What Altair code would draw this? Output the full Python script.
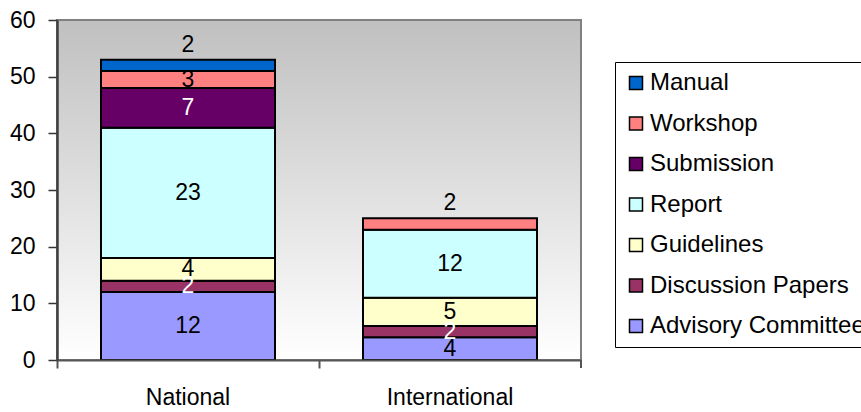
import altair as alt
import pandas as pd

# Publication counts by type, stacked per audience
categories = ["National", "International"]
series = ["Advisory Committee", "Discussion Papers", "Guidelines", "Report",
          "Submission", "Workshop", "Manual"]
national = [12, 2, 4, 23, 7, 3, 2]
international = [4, 2, 5, 12, 0, 2, 0]
series_colors = ["#9999FF", "#993366", "#FFFFCC", "#CCFFFF", "#660066", "#FF8080", "#0066CC"]
label_colors = ["black", "white", "black", "black", "white", "black", "black"]
y_ticks = [0, 10, 20, 30, 40, 50, 60]

FONT = "Liberation Sans"
W, H = 524, 340

rows = []
for cat, vals in zip(categories, [national, international]):
    top = max(i for i, v in enumerate(vals) if v > 0)
    for i, (s, v) in enumerate(zip(series, vals)):
        rows.append({"category": cat, "series": s, "value": v, "rank": i,
                     "lc": label_colors[i], "top": i == top})
df = pd.DataFrame(rows)

# legend lists the top of the stack first
legend_domain = series[::-1]
legend_range = series_colors[::-1]

base = alt.Chart(df).transform_filter("datum.value > 0")

background = alt.Chart(pd.DataFrame({"k": [0]})).mark_rect(
    fill=alt.LinearGradient(
        gradient="linear",
        stops=[alt.GradientStop(offset=0, color="#c0c0c0"),
               alt.GradientStop(offset=1, color="#ffffff")],
        x1=0, x2=0, y1=0, y2=1),
    stroke="#808080", strokeWidth=2,
).encode(x=alt.value(0), x2=alt.value(W), y=alt.value(0), y2=alt.value(H))

x_enc = alt.X("category:N", sort=categories,
              scale=alt.Scale(paddingInner=0, paddingOuter=0),
              axis=alt.Axis(title=None, labelAngle=0, labelFont=FONT, labelFontSize=23,
                            labelColor="black", labelPadding=18, tickSize=8,
                            tickColor="#555555", tickWidth=2, domainColor="#555555",
                            domainWidth=2, bandPosition=0, zindex=1))
y_enc = alt.Y("value:Q", stack="zero",
              scale=alt.Scale(domain=[0, 60], nice=False),
              axis=alt.Axis(title=None, values=y_ticks, grid=False, labelFont=FONT,
                            labelFontSize=23, labelColor="black", labelPadding=13,
                            tickSize=9, tickColor="#333333", tickWidth=1.5,
                            domainColor="#404040", domainWidth=2.5, zindex=1))

bars = base.mark_bar(stroke="black", strokeWidth=2, size=174).encode(
    x=x_enc,
    y=y_enc,
    color=alt.Color("series:N",
                    scale=alt.Scale(domain=legend_domain, range=legend_range),
                    legend=alt.Legend(title=None, orient="none", legendX=558, legendY=42,
                                      strokeColor="black", fillColor="white", padding=9,
                                      labelFont=FONT, labelFontSize=24, labelColor="black",
                                      labelLimit=400, labelOffset=2, symbolType="square",
                                      symbolSize=169, symbolStrokeColor="black",
                                      symbolStrokeWidth=1.5, rowPadding=16.5)),
    order=alt.Order("rank:Q"),
)

stacked = base.transform_stack(
    stack="value", groupby=["category"], as_=["v0", "v1"],
    sort=[alt.SortField("rank", order="ascending")],
).transform_calculate(mid="(datum.v0 + datum.v1) / 2")

inner_labels = stacked.transform_filter("!datum.top").mark_text(
    font=FONT, fontSize=23, baseline="middle").encode(
    x=alt.X("category:N", sort=categories),
    y=alt.Y("mid:Q"),
    text=alt.Text("value:Q"),
    fill=alt.Fill("lc:N", scale=None, legend=None),
)

top_labels = stacked.transform_filter("datum.top").mark_text(
    font=FONT, fontSize=23, baseline="middle", dy=-15).encode(
    x=alt.X("category:N", sort=categories),
    y=alt.Y("v1:Q"),
    text=alt.Text("value:Q"),
    fill=alt.Fill("lc:N", scale=None, legend=None),
)

end_tick = alt.Chart(pd.DataFrame({"k": [0]})).mark_rule(
    color="#555555", strokeWidth=2).encode(
    x=alt.value(W), y=alt.value(H), y2=alt.value(H + 8))

chart = alt.layer(background, bars, inner_labels, top_labels, end_tick).properties(
    width=W, height=H,
    autosize=alt.AutoSizeParams(type="none"),
    padding={"left": 57, "top": 20, "right": 861 - 57 - W, "bottom": 412 - 20 - H},
    background="white",
).configure_view(stroke=None)

chart.save("out.html", embed_options={"renderer": "svg", "actions": False})
